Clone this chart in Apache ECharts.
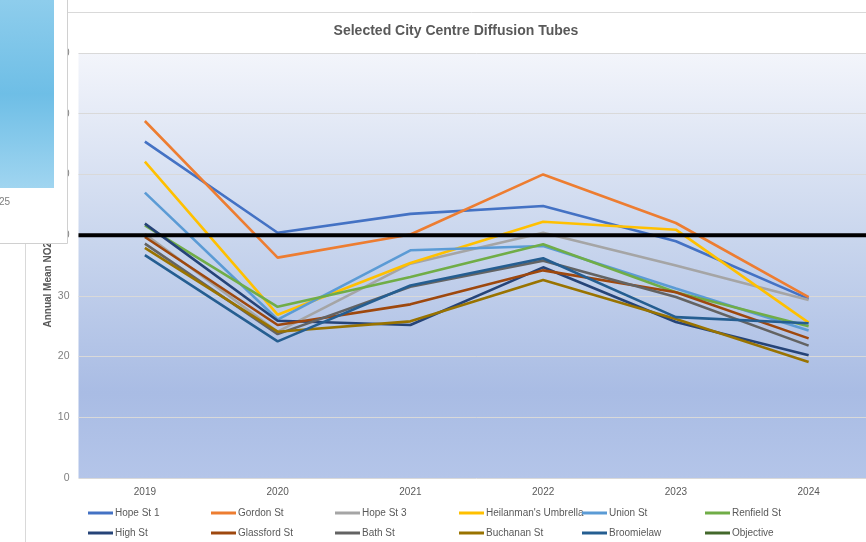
<!DOCTYPE html>
<html>
<head>
<meta charset="utf-8">
<script src="https://cdn.jsdelivr.net/npm/echarts@6/dist/echarts.min.js"></script>
<style>html,body{margin:0;padding:0;background:#fff;overflow:hidden;width:866px;height:542px}#c{width:875px;height:542px}</style>
</head>
<body>
<div id="c"></div>
<script>
const years = ['2019', '2020', '2021', '2022', '2023', '2024'];
const hopeSt1 = [55.4, 40.4, 43.5, 44.8, 39.0, 29.5];
const gordonSt = [58.8, 36.3, 40.1, 50.0, 42.0, 29.8];
const hopeSt3 = [40.2, 24.1, 35.3, 40.4, 35.0, 29.3];
const heilanman = [52.1, 26.9, 35.4, 42.2, 40.9, 25.6];
const unionSt = [47.0, 26.1, 37.5, 38.2, 31.2, 24.3];
const renfieldSt = [41.6, 28.2, 33.1, 38.5, 30.6, 25.0];
const highSt = [41.9, 25.9, 25.2, 34.7, 25.7, 20.2];
const glassfordSt = [39.7, 25.2, 28.6, 34.2, 30.6, 23.0];
const bathSt = [38.6, 23.7, 31.5, 35.8, 29.8, 21.8];
const buchananSt = [37.9, 24.1, 25.8, 32.6, 26.2, 19.1];
const broomielaw = [36.7, 22.5, 31.7, 36.2, 26.5, 25.5];
const objective = [40, 40, 40, 40, 40, 40];
const yTicks = [0, 10, 20, 30, 40, 50, 60, 70];

const seriesDefs = [
  ['Hope St 1', hopeSt1, '#4472C4'],
  ['Gordon St', gordonSt, '#ED7D31'],
  ['Hope St 3', hopeSt3, '#A5A5A5'],
  ["Heilanman's Umbrella", heilanman, '#FFC000'],
  ['Union St', unionSt, '#5B9BD5'],
  ['Renfield St', renfieldSt, '#70AD47'],
  ['High St', highSt, '#264478'],
  ['Glassford St', glassfordSt, '#9E480E'],
  ['Bath St', bathSt, '#636363'],
  ['Buchanan St', buchananSt, '#997300'],
  ['Broomielaw', broomielaw, '#255E91']
];

const FONT = 'Liberation Sans, Arial, sans-serif';
const series = seriesDefs.map(d => ({
  name: d[0], type: 'line', data: d[1], symbol: 'none', smooth: false,
  xAxisIndex: 0, yAxisIndex: 0,
  itemStyle: { color: d[2] },
  lineStyle: { color: d[2], width: 2.6 },
  emphasis: { disabled: true }
}));
series.push({
  name: 'Objective', type: 'line', data: objective, symbol: 'none',
  xAxisIndex: 1, yAxisIndex: 0,
  itemStyle: { color: '#43682B' },
  lineStyle: { color: '#000', width: 4 },
  emphasis: { disabled: true }, z: 10
});

const allNames = seriesDefs.map(d => d[0]).concat(['Objective']);
const legendCols = [88, 211, 335, 459, 582, 705];
const legends = allNames.map((n, i) => ({
  top: i < 6 ? 508 : 528, left: legendCols[i % 6], orient: 'horizontal',
  itemWidth: 25, itemHeight: 3, icon: 'rect', selectedMode: false, padding: 0,
  textStyle: { color: '#595959', fontSize: 10, fontFamily: FONT, padding: [0, 0, 0, -3] },
  data: [n === 'Objective' ? { name: n, itemStyle: { color: '#43682B' } } : { name: n }]
}));

const chart = echarts.init(document.getElementById('c'), null, { renderer: 'canvas' });
chart.setOption({
  animation: false,
  backgroundColor: '#fff',
  title: {
    text: 'Selected City Centre Diffusion Tubes', left: 451, top: 19, textAlign: 'center',
    textStyle: { color: '#595959', fontSize: 14, fontWeight: 'bold', fontFamily: FONT }
  },
  legend: legends,
  grid: {
    left: 78.5, right: 0, top: 53, height: 425, show: true, borderWidth: 0,
    backgroundColor: {
      type: 'linear', x: 0, y: 0, x2: 0, y2: 1,
      colorStops: [
        { offset: 0, color: '#f3f5fb' },
        { offset: 0.45, color: '#c8d5ed' },
        { offset: 0.8, color: '#a9bce4' },
        { offset: 1, color: '#b4c5e9' }
      ]
    }
  },
  xAxis: [{
    type: 'category', data: years, boundaryGap: true,
    axisLine: { show: false }, axisTick: { show: false },
    axisLabel: { color: '#595959', fontSize: 10, fontFamily: FONT, margin: 9 }
  }, {
    type: 'category', data: years, boundaryGap: false, show: false
  }],
  yAxis: {
    type: 'value', min: yTicks[0], max: yTicks[yTicks.length - 1], interval: 10,
    name: 'Annual Mean NO2 (µg/m3)', nameLocation: 'middle', nameGap: 25, nameRotate: 90,
    nameMoveOverlap: false,
    nameTextStyle: { color: '#595959', fontSize: 10, fontWeight: 'bold', fontFamily: FONT },
    axisLine: { show: false }, axisTick: { show: false },
    axisLabel: { color: '#7f7f7f', fontSize: 10.5, fontFamily: FONT, margin: 9 },
    splitLine: { lineStyle: { color: '#d9d9d9', width: 1 } }
  },
  graphic: [
    { type: 'line', z: 100, shape: { x1: 68, y1: 12.5, x2: 875, y2: 12.5 }, style: { stroke: '#d9d9d9', lineWidth: 1 } },
    { type: 'line', z: 100, shape: { x1: 25.5, y1: 243, x2: 25.5, y2: 542 }, style: { stroke: '#d9d9d9', lineWidth: 1 } },
    { type: 'rect', z: 100, shape: { x: -1, y: -1, width: 68.5, height: 244.5 }, style: { fill: '#fff', stroke: '#d0d0d0', lineWidth: 1 } },
    { type: 'rect', z: 101, shape: { x: 0, y: 0, width: 54, height: 188 },
      style: { fill: { type: 'linear', x: 0, y: 0, x2: 0, y2: 1, colorStops: [
        { offset: 0, color: '#8ecdec' }, { offset: 0.5, color: '#6ebee6' }, { offset: 1, color: '#a0d5f0' } ] } } },
    { type: 'text', z: 101, x: -1, y: 197, style: { text: '25', fill: '#7f7f7f', fontSize: 10, fontFamily: FONT } }
  ],
  series: series
});
</script>
</body>
</html>
